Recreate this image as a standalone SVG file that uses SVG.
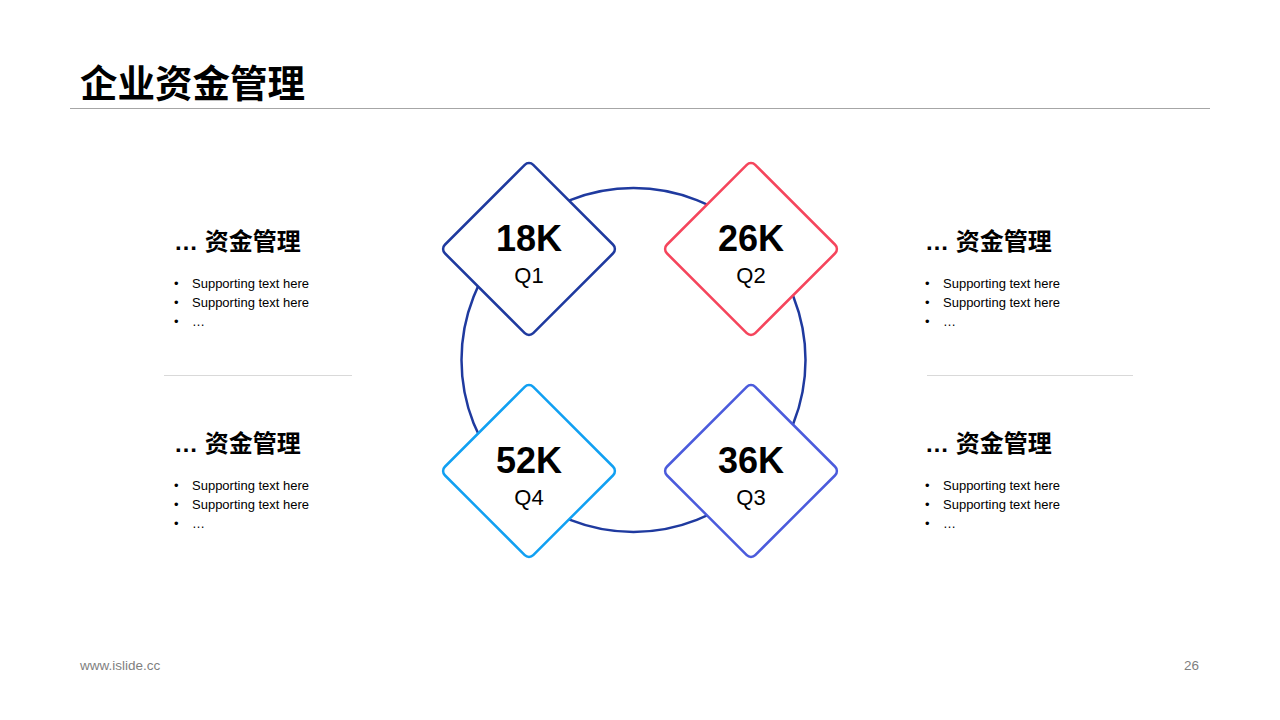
<svg xmlns="http://www.w3.org/2000/svg" width="1280" height="720" viewBox="0 0 1280 720">
<style>
.title{font-family:"Liberation Sans","Noto Sans CJK SC",sans-serif;font-weight:bold;font-size:37.5px;fill:#000}
.head{font-family:"Liberation Sans","Noto Sans CJK SC",sans-serif;font-weight:bold;font-size:24px;fill:#000}
.bul{font-family:"Liberation Sans",sans-serif;font-size:13px;fill:#000}
.num{font-family:"Liberation Sans",sans-serif;font-weight:bold;font-size:36px;fill:#000;text-anchor:middle}
.q{font-family:"Liberation Sans",sans-serif;font-size:22px;fill:#000;text-anchor:middle}
.foot{font-family:"Liberation Sans",sans-serif;font-size:13.5px;fill:#7f7f7f}
.dia{fill:#fff;stroke-width:2.5}
.div{stroke:#d9d9d9;stroke-width:1}
</style>
<rect width="1280" height="720" fill="#fff"/>
<text class="title" x="80" y="97">企业资金管理</text>
<line x1="70" y1="108.5" x2="1210" y2="108.5" stroke="#a6a6a6" stroke-width="1"/>

<g id="connectors">
<circle cx="633.5" cy="360" r="172" fill="none" stroke="#1F3A9F" stroke-width="2.5"/>
</g>

<g id="q1">
<rect class="dia" x="-62.5" y="-62.5" width="125" height="125" rx="6" stroke="#1F3A9F" transform="translate(529,249) rotate(45)"/>
<text class="num" x="529" y="251">18K</text>
<text class="q" x="529" y="283">Q1</text>
</g>
<g id="q2">
<rect class="dia" x="-62.5" y="-62.5" width="125" height="125" rx="6" stroke="#F5455C" transform="translate(751,249) rotate(45)"/>
<text class="num" x="751" y="251">26K</text>
<text class="q" x="751" y="283">Q2</text>
</g>
<g id="q4">
<rect class="dia" x="-62.5" y="-62.5" width="125" height="125" rx="6" stroke="#11A0F2" transform="translate(529,471) rotate(45)"/>
<text class="num" x="529" y="473">52K</text>
<text class="q" x="529" y="505">Q4</text>
</g>
<g id="q3">
<rect class="dia" x="-62.5" y="-62.5" width="125" height="125" rx="6" stroke="#4B5BDC" transform="translate(751,471) rotate(45)"/>
<text class="num" x="751" y="473">36K</text>
<text class="q" x="751" y="505">Q3</text>
</g>

<g id="tl">
<text class="head" x="174" y="250">… 资金管理</text>
<text class="bul" x="174" y="288">•</text><text class="bul" x="192" y="288">Supporting text here</text>
<text class="bul" x="174" y="307">•</text><text class="bul" x="192" y="307">Supporting text here</text>
<text class="bul" x="174" y="326">•</text><text class="bul" x="192" y="326">…</text>
</g>
<line class="div" x1="164" y1="375.5" x2="352" y2="375.5"/>
<g id="bl">
<text class="head" x="174" y="452">… 资金管理</text>
<text class="bul" x="174" y="490">•</text><text class="bul" x="192" y="490">Supporting text here</text>
<text class="bul" x="174" y="509">•</text><text class="bul" x="192" y="509">Supporting text here</text>
<text class="bul" x="174" y="528">•</text><text class="bul" x="192" y="528">…</text>
</g>
<g id="tr">
<text class="head" x="925" y="250">… 资金管理</text>
<text class="bul" x="925" y="288">•</text><text class="bul" x="943" y="288">Supporting text here</text>
<text class="bul" x="925" y="307">•</text><text class="bul" x="943" y="307">Supporting text here</text>
<text class="bul" x="925" y="326">•</text><text class="bul" x="943" y="326">…</text>
</g>
<line class="div" x1="927" y1="375.5" x2="1133" y2="375.5"/>
<g id="br">
<text class="head" x="925" y="452">… 资金管理</text>
<text class="bul" x="925" y="490">•</text><text class="bul" x="943" y="490">Supporting text here</text>
<text class="bul" x="925" y="509">•</text><text class="bul" x="943" y="509">Supporting text here</text>
<text class="bul" x="925" y="528">•</text><text class="bul" x="943" y="528">…</text>
</g>

<text class="foot" x="80" y="670">www.islide.cc</text>
<text class="foot" x="1199" y="670" text-anchor="end">26</text>
</svg>
